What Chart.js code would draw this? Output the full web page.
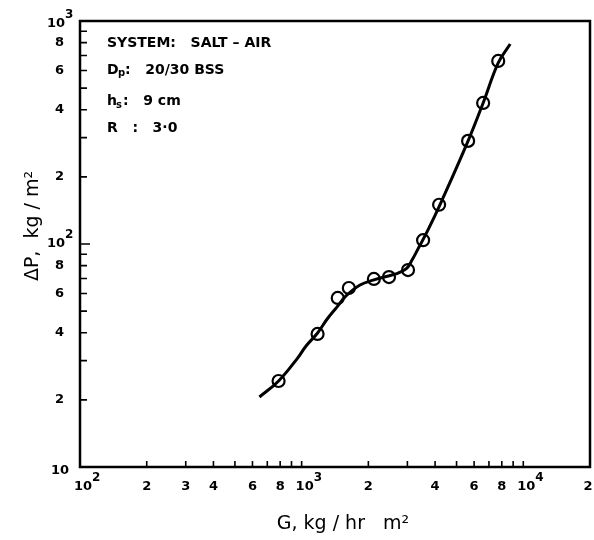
<!DOCTYPE html>
<html>
<head>
<meta charset="utf-8">
<script src="https://cdn.jsdelivr.net/npm/chart.js@4"></script>
<style>
  body { margin: 0; background: #fff; }
  #wrap { width: 594px; height: 540px; }
</style>
</head>
<body>
<div id="wrap"><canvas id="graf" width="594" height="540"></canvas></div>
<script>
// measured points (G kg/hr m2, dP kg/m2)
const pointsG = [787, 1180, 1455, 1633, 2118, 2478, 3020, 3532, 4171, 5637, 6590, 7708]
const pointsDP = [24.3, 39.5, 57.3, 63.5, 69.7, 71.1, 76.4, 104, 150, 290, 429, 662]
// smooth fitted curve
const curveG = [645, 787, 959, 1047, 1180, 1304, 1439, 1585, 1834, 2118, 2552, 2723, 2985, 3148, 3350, 3717, 4297, 5637, 6590, 7708, 8730]
const curveDP = [20.6, 24.3, 30.8, 34.9, 39.9, 46.1, 52.0, 58.5, 65.5, 69.0, 72.6, 74.1, 78.0, 84.7, 95.1, 115.6, 157, 290, 429, 649, 789]

const xTickValues = [100, 200, 300, 400, 600, 800, 1000, 2000, 4000, 6000, 8000, 10000, 20000]
const xTickLabels = [['10','2'], '2', '3', '4', '6', '8', ['10','3'], '2', '4', '6', '8', ['10','4'], '2']
const yTickValues = [10, 20, 40, 60, 80, 100, 200, 400, 600, 800, 1000]
const yTickLabels = ['10', '2', '4', '6', '8', ['10','2'], '2', '4', '6', '8', ['10','3']]
const xMinor = [200,300,400,500,600,700,800,900,1000,2000,3000,4000,5000,6000,7000,8000,9000,10000]
const yMinor = [20,30,40,50,60,70,80,90,100,200,300,400,500,600,700,800,900]

const FONT = 'bold 13px "DejaVu Sans"'

function supLabel(ctx, parts, x, y, align) {
    // parts = ['10','3'] -> draws 10 with superscript
    ctx.font = FONT
    const w = ctx.measureText(parts[0]).width
    let left = align == 'right' ? x - w - 7 : x - w / 2 + 3
    ctx.textAlign = 'left'
    ctx.textBaseline = 'middle'
    ctx.fillText(parts[0], left, y)
    ctx.font = 'bold 12px "DejaVu Sans"'
    ctx.fillText(parts[1], left + w, y - 9)
}

const paperPlugin = {
    id: 'paper',
    afterDraw(chart) {
        const ctx = chart.ctx
        const xs = chart.scales.x
        const ys = chart.scales.y
        const a = chart.chartArea
        ctx.save()
        ctx.strokeStyle = '#000'
        ctx.fillStyle = '#000'
        ctx.lineWidth = 2.5
        ctx.strokeRect(a.left, a.top, a.right - a.left, a.bottom - a.top)

        // inward tick marks
        ctx.lineWidth = 1.6
        ctx.beginPath()
        xMinor.forEach(v => {
            const px = xs.getPixelForValue(v)
            ctx.moveTo(px, a.bottom)
            ctx.lineTo(px, a.bottom - 6)
        })
        yMinor.forEach(v => {
            const py = ys.getPixelForValue(v)
            ctx.moveTo(a.left, py)
            ctx.lineTo(a.left + (v == 100 ? 10 : 7), py)
        })
        ctx.stroke()

        // tick labels
        ctx.font = FONT
        xTickValues.forEach((v, i) => {
            const px = xs.getPixelForValue(v)
            const lab = xTickLabels[i]
            if (Array.isArray(lab)) {
                supLabel(ctx, lab, px, 487, 'center')
            } else {
                ctx.font = FONT
                ctx.textAlign = 'center'
                ctx.textBaseline = 'middle'
                ctx.fillText(lab, i == xTickValues.length - 1 ? px - 2 : px, 487)
            }
        })
        yTickValues.forEach((v, i) => {
            const py = ys.getPixelForValue(v)
            const lab = yTickLabels[i]
            if (Array.isArray(lab)) {
                supLabel(ctx, lab, 72, py + (v == 1000 ? 3 : 0), 'right')
            } else {
                ctx.font = FONT
                ctx.textAlign = 'right'
                ctx.textBaseline = 'middle'
                ctx.fillText(lab, v == 10 ? 69 : 64, py + (v == 10 ? 4 : 0))
            }
        })

        // axis titles
        ctx.font = '19px "DejaVu Sans"'
        ctx.textAlign = 'center'
        ctx.textBaseline = 'middle'
        ctx.fillText('G, kg / hr   m²', 343, 524)
        ctx.save()
        ctx.translate(33, 226)
        ctx.rotate(-Math.PI / 2)
        ctx.fillText('ΔP,  kg / m²', 0, 0)
        ctx.restore()

        // conditions box
        ctx.font = 'bold 14px "DejaVu Sans"'
        ctx.textAlign = 'left'
        ctx.fillText('SYSTEM:   SALT – AIR', 107, 43)
        ctx.fillText('D', 107, 70)
        ctx.font = 'bold 10px "DejaVu Sans"'
        ctx.fillText('p', 118, 73)
        ctx.font = 'bold 14px "DejaVu Sans"'
        ctx.fillText(':   20/30 BSS', 125, 70)
        ctx.fillText('h', 107, 101)
        ctx.font = 'bold 10px "DejaVu Sans"'
        ctx.fillText('s', 116, 105)
        ctx.font = 'bold 14px "DejaVu Sans"'
        ctx.fillText(':   9 cm', 123, 101)
        ctx.fillText('R   :   3·0', 107, 128)
        ctx.restore()
    }
}

const graph = document.getElementById('graf')
new Chart(graph, {
    type: 'scatter',
    data: {
        datasets: [{
            data: curveG.map((g, i) => ({x: g, y: curveDP[i]})),
            showLine: true,
            tension: 0.4,
            borderColor: '#000',
            borderWidth: 3,
            pointRadius: 0
        }, {
            data: pointsG.map((g, i) => ({x: g, y: pointsDP[i]})),
            showLine: false,
            pointRadius: 6,
            pointBorderWidth: 2.2,
            pointBorderColor: '#000',
            pointBackgroundColor: 'rgba(255,255,255,0)'
        }]
    },
    options: {
        responsive: false,
        animation: false,
        devicePixelRatio: 1,
        layout: { autoPadding: false, padding: { left: 80, top: 21, right: 4, bottom: 73 } },
        plugins: { legend: { display: false }, tooltip: { enabled: false } },
        scales: {
            x: { type: 'logarithmic', min: 100, max: 20000, display: false },
            y: { type: 'logarithmic', min: 10, max: 1000, display: false }
        }
    },
    plugins: [paperPlugin]
})
</script>
</body>
</html>
